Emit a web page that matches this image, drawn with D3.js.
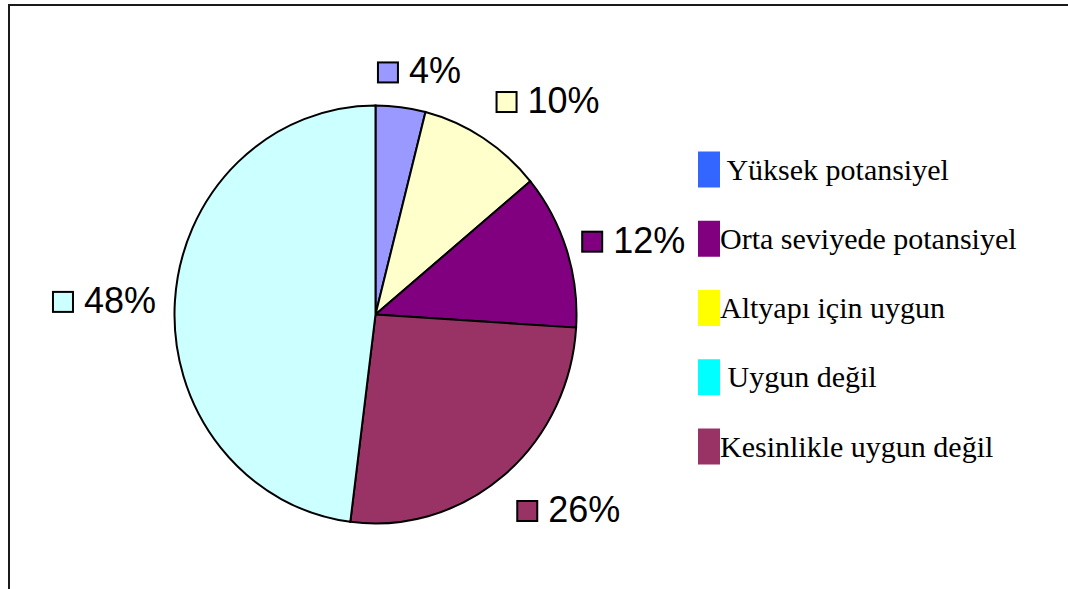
<!DOCTYPE html>
<html>
<head>
<meta charset="utf-8">
<script src="https://cdn.jsdelivr.net/npm/d3@7"></script>
<style>
  body { margin: 0; background: #fff; }
  svg { display: block; }
</style>
</head>
<body>
<div id="pie"></div>
<script>
// slices, clockwise from 12 o'clock
var sliceNames  = ["Yüksek potansiyel", "Altyapı için uygun", "Orta seviyede potansiyel", "Kesinlikle uygun değil", "Uygun değil"];
var sliceValues = [4, 10, 12, 26, 48];
var sliceColors = ["#9999FF", "#FFFFCC", "#800080", "#993366", "#CCFFFF"];
// legend, as listed on the right
var legendNames  = [" Yüksek potansiyel", "Orta seviyede potansiyel", "Altyapı için uygun", " Uygun değil", "Kesinlikle uygun değil"];
var legendColors = ["#3366FF", "#800080", "#FFFF00", "#00FFFF", "#993366"];

var width = 1068, height = 589;
var cx = 375.5, cy = 314.5, rx = 201, ry = 209;
// label distance out from the rim, plus small hand nudges
var labelGap   = [24, 42, 19, 40, 19];
var labelNudge = [[10, 0], [14, 8.5], [-1, 0], [6, -6.5], [0, 1]];

var svg = d3.select("#pie")
  .append("svg")
    .attr("width", width)
    .attr("height", height);

// frame
svg.append("path")
  .attr("d", "M9,589 V5 H1068")
  .style("fill", "none")
  .style("stroke", "#1a1a1a")
  .style("stroke-width", 2);

var pie = d3.pie().sort(null).value(d => d);
var arcs = pie(sliceValues);
var arc = d3.arc().innerRadius(0).outerRadius(rx);

svg.append("g")
    .attr("transform", "translate(" + cx + "," + cy + ") scale(1," + (ry / rx) + ")")
  .selectAll("path")
  .data(arcs)
  .enter()
  .append("path")
    .attr("d", arc)
    .style("fill", (d, i) => sliceColors[i])
    .style("stroke", "#000")
    .style("stroke-width", 2)
    .attr("vector-effect", "non-scaling-stroke");

// data labels
var box = 21, gap = 11, digitH = 25;
arcs.forEach(function(d, i) {
  var a = (d.startAngle + d.endAngle) / 2;
  var g = svg.append("g");
  var t = g.append("text")
    .attr("x", box + gap)
    .attr("y", 0)
    .style("font-family", "'Liberation Sans', Arial, sans-serif")
    .style("font-size", "36px")
    .style("fill", "#000")
    .text(d.value + "%");
  g.append("rect")
    .attr("x", 1).attr("y", -box)
    .attr("width", box - 1).attr("height", box - 1)
    .style("fill", sliceColors[i])
    .style("stroke", "#000")
    .style("stroke-width", 2);
  var w = box + gap + t.node().getComputedTextLength();
  var ax = cx + (rx + labelGap[i]) * Math.sin(a);
  var ay = cy - (ry + labelGap[i]) * Math.cos(a);
  var lx = ax + w / 2 * Math.sin(a) - w / 2 + labelNudge[i][0];
  var ly = ay - digitH / 2 * Math.cos(a) + digitH / 2 + labelNudge[i][1];
  g.attr("transform", "translate(" + lx + "," + ly + ")");
});

// legend
var legendY = d3.scalePoint()
  .domain(legendNames)
  .range([169.5, 446.5]);

var legend = svg.append("g")
  .selectAll("g")
  .data(legendNames)
  .enter()
  .append("g")
    .attr("transform", d => "translate(698," + legendY(d) + ")");

legend.append("rect")
  .attr("x", 0).attr("y", -18)
  .attr("width", 22).attr("height", 36)
  .style("fill", (d, i) => legendColors[i]);

legend.append("text")
  .attr("x", 22)
  .attr("y", 10)
  .style("font-family", "'Liberation Serif', 'Times New Roman', serif")
  .style("font-size", "30px")
  .style("white-space", "pre")
  .style("fill", "#000")
  .text(d => d);
</script>
</body>
</html>
